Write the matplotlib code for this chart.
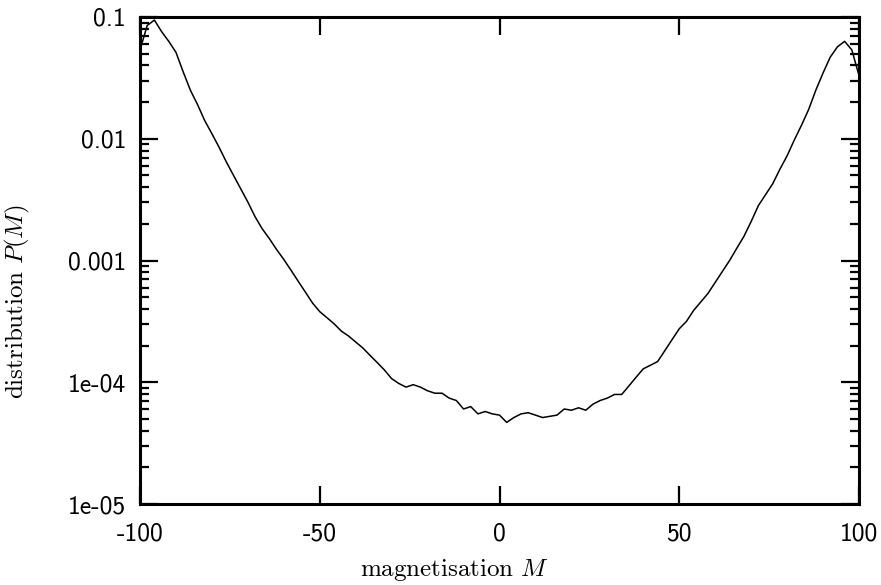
import matplotlib
matplotlib.use("Agg")
import matplotlib.pyplot as plt
import numpy as np

plt.rcParams['mathtext.fontset'] = 'cm'
plt.rcParams['axes.unicode_minus'] = False

# magnetisation values (even M for N=100 spins)
magnetisation = np.arange(-100, 101, 2)

# distribution P(M)
distribution = [
    0.0537, 0.0851, 0.0944, 0.0759, 0.0631, 0.0513, 0.0355, 0.0251, 0.0191, 0.0141,
    0.0110, 0.00851, 0.00646, 0.00501, 0.00389, 0.00302, 0.00229, 0.00182, 0.00151, 0.00123,
    0.00102, 0.000832, 0.000676, 0.000550, 0.000447, 0.000380, 0.000339, 0.000302, 0.000263, 0.000240,
    0.000214, 0.000191, 0.000166, 0.000145, 0.000126, 0.000107, 9.77e-5, 9.12e-5, 9.55e-5, 9.12e-5,
    8.51e-5, 8.13e-5, 8.13e-5, 7.41e-5, 7.08e-5, 6.03e-5, 6.31e-5, 5.50e-5, 5.75e-5, 5.50e-5,
    5.37e-5,
    4.68e-5, 5.13e-5, 5.50e-5, 5.62e-5, 5.37e-5, 5.13e-5, 5.25e-5, 5.37e-5, 6.03e-5, 5.89e-5,
    6.17e-5, 5.89e-5, 6.61e-5, 7.08e-5, 7.41e-5, 7.94e-5, 7.94e-5, 9.33e-5, 1.10e-4, 1.29e-4,
    1.38e-4, 1.48e-4, 1.82e-4, 2.24e-4, 2.75e-4, 3.16e-4, 3.89e-4, 4.57e-4, 5.37e-4, 6.61e-4,
    8.13e-4, 1.00e-3, 1.26e-3, 1.58e-3, 2.09e-3, 2.82e-3, 3.47e-3, 4.27e-3, 5.62e-3, 7.24e-3,
    9.77e-3, 1.29e-2, 1.74e-2, 2.51e-2, 3.47e-2, 4.68e-2, 5.69e-2, 6.31e-2, 5.37e-2, 3.31e-2,
]

xticks = [-100, -50, 0, 50, 100]
xtick_labels = ["-100", "-50", "0", "50", "100"]
yticks = [1e-5, 1e-4, 1e-3, 1e-2, 1e-1]
ytick_labels = ["1e-05", "1e-04", "0.001", "0.01", "0.1"]

W, H = 881, 585
fig = plt.figure(figsize=(W / 100, H / 100), dpi=100)
ax = fig.add_axes([140 / W, (H - 504) / H, 719 / W, 487 / H])

ax.plot(magnetisation, distribution, color="black", lw=1.1)

ax.set_yscale("log")
ax.set_xlim(-100, 100)
ax.set_ylim(1e-5, 0.1)

ax.set_xticks(xticks, labels=xtick_labels)
ax.set_yticks(yticks, labels=ytick_labels)
ax.yaxis.set_minor_locator(matplotlib.ticker.LogLocator(base=10, subs=np.arange(2, 10)))
ax.yaxis.set_minor_formatter(matplotlib.ticker.NullFormatter())

for s in ax.spines.values():
    s.set_linewidth(2.2)

ax.tick_params(which="both", direction="in", top=True, right=True, width=1.6)
ax.tick_params(which="major", length=13)
ax.tick_params(axis="x", which="major", pad=13)
ax.tick_params(axis="y", which="major", pad=10)
ax.tick_params(which="minor", length=6.5)
for lab in ax.get_xticklabels() + ax.get_yticklabels():
    lab.set_fontfamily("cmss10")
    lab.set_fontsize(18.5)

ax.set_xlabel(r"$\mathrm{magnetisation}\ M$", fontsize=18)
ax.set_ylabel(r"$\mathrm{distribution}\ P(M)$", fontsize=18)
# labels are centred on the canvas rather than on the frame
ax.xaxis.set_label_coords(0.437, -0.108)
ax.yaxis.set_label_coords(-0.150, 0.415)

fig.savefig("out.png", dpi=100)
